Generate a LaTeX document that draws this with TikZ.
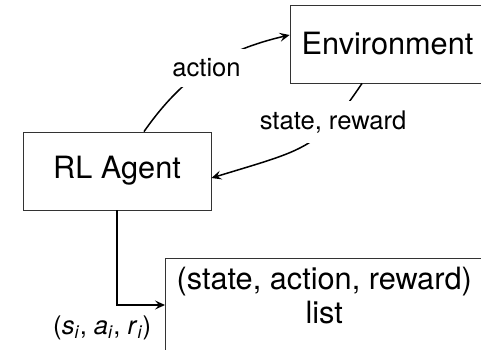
\documentclass[tikz,border=0pt]{standalone}
\usepackage{fontspec}
\setmainfont{TeX Gyre Heros}
\usetikzlibrary{arrows.meta,calc}
\tikzset{
  box/.style={draw=black!80, line width=0.8pt, font=\fontsize{30.7}{34}\selectfont, inner sep=0pt},
  boxline/.style={draw=black!80, line width=0.8pt},
  lab/.style={font=\fontsize{25.6}{30}\selectfont, fill=white, inner sep=10pt},
  arr/.style={line width=1.5pt, -{Stealth[length=10pt,width=9pt,inset=4pt]}},
}
\begin{document}
\begin{tikzpicture}[x=1pt,y=1pt]
\useasboundingbox (0,0) rectangle (481,-349);
\node[box, minimum width=195pt, minimum height=78pt] (env) at (387.5,-44) {Environment};
\node[box, minimum width=188pt, minimum height=78pt] (agent) at (117,-171) {RL Agent};
\node[font=\fontsize{30.7}{34}\selectfont, align=center, anchor=north west,
      minimum width=318pt, inner xsep=0pt, inner ysep=9pt] (list) at (165,-258)
      {(state, action, reward)\\list};
\draw[boxline] (list.north west) rectangle ($(list.north west)+(318pt,-130pt)$);
\draw[arr] ([xshift=27pt]agent.north) to[out=55,in=193]
  node[lab] (act) {action} ([yshift=9pt]env.west);
\draw[arr] ([xshift=-25.5pt]env.south) .. controls +(236:80pt) and +(17:100pt) ..
  ([yshift=-7pt]agent.east) node[lab, pos=0.25] (sr) {state, reward};
\draw[arr] (agent.south) |- ($(list.north west)+(0,-47pt)$)
  node[pos=1, anchor=north east, xshift=-13pt, yshift=-10pt, inner sep=0pt,
       font=\fontsize{25.6}{30}\selectfont] (sar)
  {(\textit{s}\textsubscript{\textit{i}}, \textit{a}\textsubscript{\textit{i}}, \textit{r}\textsubscript{\textit{i}})};
\end{tikzpicture}
\end{document}
